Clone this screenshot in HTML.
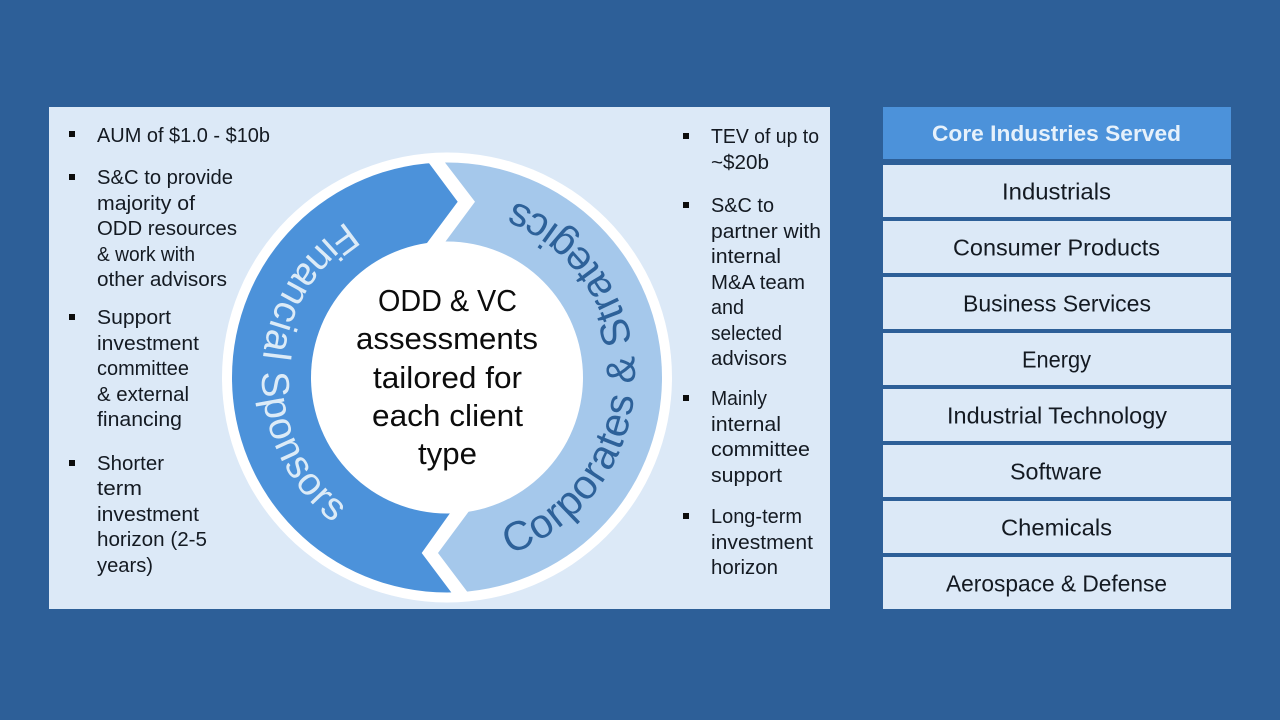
<!DOCTYPE html>
<html lang="en">
<head>
<meta charset="utf-8">
<title>Client types and core industries</title>
<style>
html,body{margin:0;padding:0;background:#2d5f98;}
svg{display:block;}
text{font-family:"Liberation Sans",sans-serif;}
.l text{font-size:20px;fill:#141a22;}
.r text{font-size:23px;fill:#141a22;text-anchor:start;}
.c text{font-size:31px;fill:#0c0c0c;}
</style>
</head>
<body>
<svg width="1280" height="720" viewBox="0 0 1280 720" xmlns="http://www.w3.org/2000/svg">
<rect width="1280" height="720" fill="#2d5f98"/>
<rect x="49" y="107" width="781" height="502" fill="#dce9f7"/>

<defs>
<clipPath id="ring"><circle cx="447" cy="377.5" r="215"/></clipPath>
<path id="fs" d="M346.2 221.8 A185 185 0 0 0 333.1 522.8"/>
<path id="cs" d="M509.8 554.2 A188 188 0 0 0 520.5 204"/>
</defs>

<circle cx="447" cy="377.5" r="225" fill="#fff"/>
<g clip-path="url(#ring)">
<polygon points="414,143 457.7,201.7 398,282 400,470 480,471 421.7,553 466,612 200,612 200,143" fill="#4c92da"/>
<polygon points="430,143 475,201.7 417,280 498,472 438,553 481,610 700,610 700,143" fill="#a5c8eb"/>
</g>
<circle cx="447" cy="377.5" r="136" fill="#fff"/>

<text font-size="39" fill="#dcebf7"><textPath href="#fs" textLength="352" lengthAdjust="spacing">Financial Sponsors</textPath></text>
<text font-size="41" fill="#2d6199"><textPath href="#cs" textLength="457" lengthAdjust="spacing">Corporates &amp; Strategics</textPath></text>

<g class="c">
<text x="378" y="311" textLength="139" lengthAdjust="spacingAndGlyphs">ODD &amp; VC</text>
<text x="356" y="349" textLength="182" lengthAdjust="spacingAndGlyphs">assessments</text>
<text x="373" y="388" textLength="149" lengthAdjust="spacingAndGlyphs">tailored for</text>
<text x="372" y="426" textLength="151" lengthAdjust="spacingAndGlyphs">each client</text>
<text x="418" y="464" textLength="59" lengthAdjust="spacingAndGlyphs">type</text>
</g>

<g fill="#0c0c0c">
<rect x="69" y="131" width="6" height="6"/>
<rect x="69" y="174" width="6" height="6"/>
<rect x="69" y="314" width="6" height="6"/>
<rect x="69" y="460" width="6" height="6"/>
<rect x="683" y="133" width="6" height="6"/>
<rect x="683" y="202" width="6" height="6"/>
<rect x="683" y="395" width="6" height="6"/>
<rect x="683" y="513" width="6" height="6"/>
</g>

<g class="l">
<text x="97" y="142" textLength="173" lengthAdjust="spacingAndGlyphs">AUM of $1.0 - $10b</text>
<text x="97" y="184" textLength="136" lengthAdjust="spacingAndGlyphs">S&amp;C to provide</text>
<text x="97" y="210" textLength="98" lengthAdjust="spacingAndGlyphs">majority of</text>
<text x="97" y="235" textLength="140" lengthAdjust="spacingAndGlyphs">ODD resources</text>
<text x="97" y="261" textLength="98" lengthAdjust="spacingAndGlyphs">&amp; work with</text>
<text x="97" y="286" textLength="130" lengthAdjust="spacingAndGlyphs">other advisors</text>
<text x="97" y="324" textLength="74" lengthAdjust="spacingAndGlyphs">Support</text>
<text x="97" y="350" textLength="102" lengthAdjust="spacingAndGlyphs">investment</text>
<text x="97" y="375" textLength="92" lengthAdjust="spacingAndGlyphs">committee</text>
<text x="97" y="401" textLength="92" lengthAdjust="spacingAndGlyphs">&amp; external</text>
<text x="97" y="426" textLength="85" lengthAdjust="spacingAndGlyphs">financing</text>
<text x="97" y="470" textLength="67" lengthAdjust="spacingAndGlyphs">Shorter</text>
<text x="97" y="495" textLength="45" lengthAdjust="spacingAndGlyphs">term</text>
<text x="97" y="521" textLength="102" lengthAdjust="spacingAndGlyphs">investment</text>
<text x="97" y="546" textLength="110" lengthAdjust="spacingAndGlyphs">horizon (2-5</text>
<text x="97" y="572" textLength="56" lengthAdjust="spacingAndGlyphs">years)</text>

<text x="711" y="143" textLength="108" lengthAdjust="spacingAndGlyphs">TEV of up to</text>
<text x="711" y="169" textLength="58" lengthAdjust="spacingAndGlyphs">~$20b</text>
<text x="711" y="212" textLength="63" lengthAdjust="spacingAndGlyphs">S&amp;C to</text>
<text x="711" y="238" textLength="110" lengthAdjust="spacingAndGlyphs">partner with</text>
<text x="711" y="263" textLength="70" lengthAdjust="spacingAndGlyphs">internal</text>
<text x="711" y="289" textLength="94" lengthAdjust="spacingAndGlyphs">M&amp;A team</text>
<text x="711" y="314" textLength="33" lengthAdjust="spacingAndGlyphs">and</text>
<text x="711" y="340" textLength="71" lengthAdjust="spacingAndGlyphs">selected</text>
<text x="711" y="365" textLength="76" lengthAdjust="spacingAndGlyphs">advisors</text>
<text x="711" y="405" textLength="56" lengthAdjust="spacingAndGlyphs">Mainly</text>
<text x="711" y="431" textLength="70" lengthAdjust="spacingAndGlyphs">internal</text>
<text x="711" y="456" textLength="99" lengthAdjust="spacingAndGlyphs">committee</text>
<text x="711" y="482" textLength="71" lengthAdjust="spacingAndGlyphs">support</text>
<text x="711" y="523" textLength="91" lengthAdjust="spacingAndGlyphs">Long-term</text>
<text x="711" y="549" textLength="102" lengthAdjust="spacingAndGlyphs">investment</text>
<text x="711" y="574" textLength="67" lengthAdjust="spacingAndGlyphs">horizon</text>
</g>

<rect x="883" y="107" width="348" height="52" fill="#4c92da"/>
<g fill="#dce9f7">
<rect x="883" y="165" width="348" height="52"/>
<rect x="883" y="221" width="348" height="52"/>
<rect x="883" y="277" width="348" height="52"/>
<rect x="883" y="333" width="348" height="52"/>
<rect x="883" y="389" width="348" height="52"/>
<rect x="883" y="445" width="348" height="52"/>
<rect x="883" y="501" width="348" height="52"/>
<rect x="883" y="557" width="348" height="52"/>
</g>
<text x="932" y="141" font-size="22" font-weight="700" fill="#e6f1fb" textLength="249" lengthAdjust="spacingAndGlyphs">Core Industries Served</text>
<g class="r">
<text x="1002" y="199.500" textLength="109" lengthAdjust="spacingAndGlyphs">Industrials</text>
<text x="953" y="255.500" textLength="207" lengthAdjust="spacingAndGlyphs">Consumer Products</text>
<text x="963" y="311.500" textLength="188" lengthAdjust="spacingAndGlyphs">Business Services</text>
<text x="1022" y="367.500" textLength="69" lengthAdjust="spacingAndGlyphs">Energy</text>
<text x="947" y="423.500" textLength="220" lengthAdjust="spacingAndGlyphs">Industrial Technology</text>
<text x="1010" y="479.500" textLength="92" lengthAdjust="spacingAndGlyphs">Software</text>
<text x="1001" y="535.500" textLength="111" lengthAdjust="spacingAndGlyphs">Chemicals</text>
<text x="946" y="591.500" textLength="221" lengthAdjust="spacingAndGlyphs">Aerospace &amp; Defense</text>
</g>
</svg>
</body>
</html>
